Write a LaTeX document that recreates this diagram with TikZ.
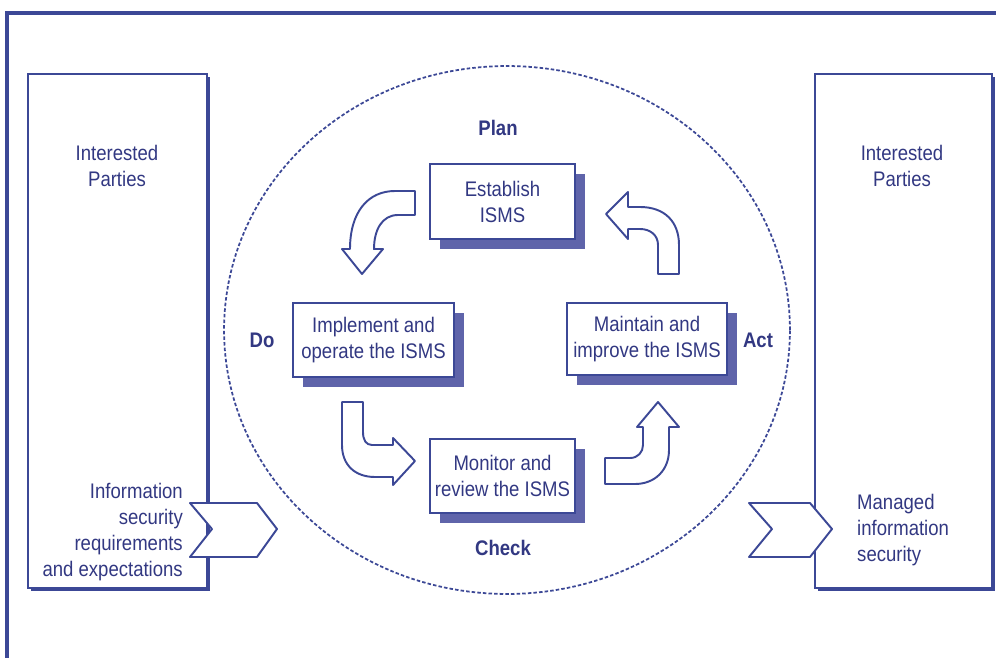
\documentclass[tikz,border=0pt]{standalone}
\usepackage{fontspec}
\setmainfont[FakeStretch=0.88]{Liberation Sans}
\usetikzlibrary{shadows}
\definecolor{ismsline}{RGB}{60,72,150}
\definecolor{ismsshade}{RGB}{95,100,170}
\definecolor{ismstext}{RGB}{50,56,130}

\tikzset{
  partybox/.style={draw=ismsline, line width=1.6pt, fill=white, inner sep=0pt,
    general shadow={fill=ismsline, shadow xshift=0.06cm, shadow yshift=-0.06cm}},
  stepbox/.style={draw=ismsline, line width=1.2pt, fill=white, align=center, text=ismstext,
    inner sep=0pt, font=\fontsize{12}{14.8}\selectfont,
    general shadow={fill=ismsshade, shadow xshift=0.2cm, shadow yshift=-0.2cm}},
  turn/.style={draw=ismsline, line width=1.1pt, fill=white, line join=round},
  lbl/.style={text=ismstext, font=\fontsize{12}{14.8}\selectfont},
  phase/.style={text=ismstext, font=\fontsize{12}{14.8}\selectfont\bfseries},
}

\begin{document}
\begin{tikzpicture}[x=0.02cm, y=-0.02cm]
	%%%%% START %%%%%
	\useasboundingbox (0,0) rectangle (996,658);
	\draw[ismsline, line width=1.8pt] (7,658) -- (7,13) -- (996,13);
	
	% cycle
	\draw[ismsline, line width=1pt, dash pattern=on 2pt off 1.2pt] (507,330) ellipse [x radius=5.66cm, y radius=5.28cm];
	
	% interested parties
	\node[partybox, minimum width=3.58cm, minimum height=10.28cm] (lbox) at (117.5,331) {};
	\node[partybox, minimum width=3.54cm, minimum height=10.28cm] (rbox) at (903.5,331) {};
	\node[lbl, align=center] (lparty) at (117,166) {Interested\\Parties};
	\node[lbl, align=center] (rparty) at (902,166) {Interested\\Parties};
	\node[lbl, align=right, anchor=east] (req) at (189,532) {Information\\security\\requirements\\and expectations};
	\node[lbl, align=left, anchor=west] (mis) at (851,530) {Managed\\information\\security};
	
	% in and out
	\draw[turn] (190,503) -- (257,503) -- (277,529) -- (257,557) -- (190,557) -- (212,529) -- cycle;
	\draw[turn] (749,503) -- (810,503) -- (832,529) -- (810,557) -- (749,557) -- (772,529) -- cycle;
	
	% steps
	\node[stepbox, minimum width=2.9cm, minimum height=1.5cm] (est) at (502.5,201.5) {Establish\\ISMS};
	\node[stepbox, minimum width=3.22cm, minimum height=1.48cm] (impl) at (373.5,340) {Implement and\\operate the ISMS};
	\node[stepbox, minimum width=3.2cm, minimum height=1.44cm] (maint) at (647,339) {Maintain and\\improve the ISMS};
	\node[stepbox, minimum width=2.9cm, minimum height=1.48cm] (mon) at (502.5,476) {Monitor and\\review the ISMS};
	
	\node[phase] (plan) at (498,128) {Plan};
	\node[phase] (do) at (262,340) {Do};
	\node[phase] (act) at (758,340) {Act};
	\node[phase] (check) at (503,548) {Check};
	
	% curved arrows
	\draw[turn] (415,191) -- (395,191) .. controls (368,191) and (350,212) .. (350,249) -- (342,249) -- (362,274) -- (383,249) -- (374,249) .. controls (374,230) and (382,215) .. (398,215) -- (415,215) -- cycle;
	\draw[turn] (342,402) -- (342,445) .. controls (342,465) and (355,477) .. (375,477) -- (393,477) -- (393,485) -- (415,461) -- (393,438) -- (393,445) -- (372,445) .. controls (366,445) and (363,440) .. (363,432) -- (363,402) -- cycle;
	\draw[turn] (605,458) -- (630,458) .. controls (638,458) and (643,452) .. (643,445) -- (643,427) -- (637,427) -- (658,402) -- (679,427) -- (669,427) -- (669,450) .. controls (669,470) and (655,484) .. (635,484) -- (605,484) -- cycle;
	\draw[turn] (658,274) -- (658,245) .. controls (658,235) and (650,229) .. (640,229) -- (628,229) -- (628,239) -- (606,214) -- (628,192) -- (628,207) -- (640,207) .. controls (665,207) and (679,222) .. (679,245) -- (679,274) -- cycle;
	%%%%% END %%%%%
\end{tikzpicture}
\end{document}
